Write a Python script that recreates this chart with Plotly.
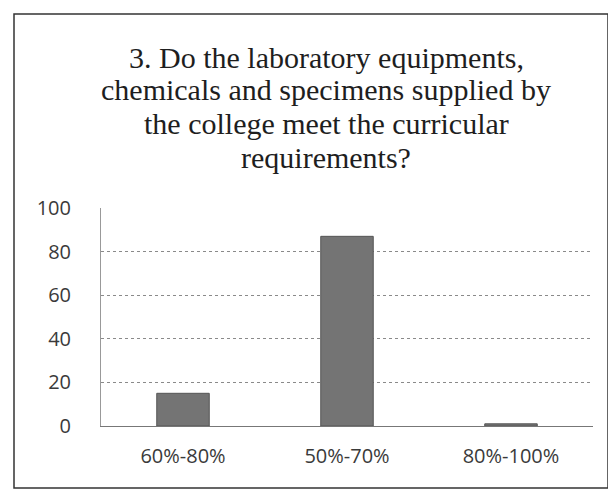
import plotly.graph_objects as go

categories = ["60%-80%", "50%-70%", "80%-100%"]
values = [15, 87, 1]
y_ticks = [0, 20, 40, 60, 80, 100]
title_lines = [
    "3. Do the laboratory equipments,",
    "chemicals and specimens supplied by",
    "the college meet the curricular",
    "requirements?",
]

W, H = 616, 490
L, R, T, B = 93, 31, 200, 72
pw, ph = W - L - R, H - T - B

def px_x(x):
    return (x - L) / pw

def px_y(y):
    return (H - B - y) / ph

fig = go.Figure(go.Bar(
    x=categories, y=values,
    marker=dict(color="#747474", line=dict(color="#555", width=1)),
    width=0.32,
))

line_centers = [49, 82, 115, 149]
annotations = [
    dict(text=t, xref="paper", yref="paper", x=px_x(318), y=px_y(c),
         xanchor="center", yanchor="middle", showarrow=False,
         font=dict(family="Liberation Serif, Times New Roman, serif", size=30, color="#1e1e1e"))
    for t, c in zip(title_lines, line_centers)
]

tick_font = dict(family="Open Sans, Liberation Sans, sans-serif", size=20, color="#3a3a3a")

fig.update_layout(
    width=W, height=H,
    margin=dict(l=L, r=R, t=T, b=B),
    paper_bgcolor="white", plot_bgcolor="white",
    showlegend=False,
    annotations=annotations,
    xaxis=dict(
        showline=True, linecolor="#777", linewidth=1,
        tickfont=tick_font,
        ticks="", ticklabelstandoff=12,
    ),
    yaxis=dict(
        range=[0, 100], tickvals=y_ticks,
        showgrid=True, gridcolor="#8a8a8a", gridwidth=1, griddash="dot",
        showline=True, linecolor="#999", linewidth=1,
        zeroline=False,
        tickfont=tick_font,
        ticks="", ticklabelstandoff=25,
    ),
    shapes=[dict(
        type="rect", xref="paper", yref="paper",
        x0=px_x(6), x1=px_x(600), y0=px_y(480), y1=px_y(6),
        line=dict(color="#333", width=1.5),
    )],
)

fig.write_html("out.html")
